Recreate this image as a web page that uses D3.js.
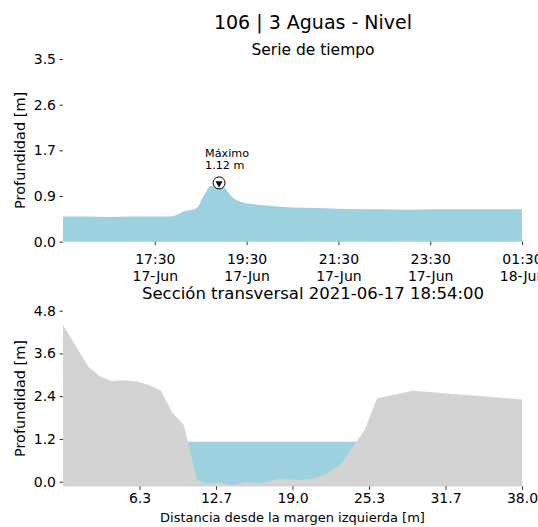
<html>
<head>
  <style>
    body { margin: 0; background: #fff; }
    text { font-family: "DejaVu Sans", sans-serif; fill: #000; }
  </style>
  <script src="https://d3js.org/d3.v7.min.js"></script>
</head>
<body>
<div id="chart"></div>
<script type="text/javascript">

// serie de tiempo (nivel)
var times = [
  "2021-06-17 15:30", "2021-06-17 16:00", "2021-06-17 16:30", "2021-06-17 17:00",
  "2021-06-17 17:30", "2021-06-17 17:50", "2021-06-17 17:55", "2021-06-17 18:00",
  "2021-06-17 18:05", "2021-06-17 18:10", "2021-06-17 18:15", "2021-06-17 18:20",
  "2021-06-17 18:25", "2021-06-17 18:28", "2021-06-17 18:31", "2021-06-17 18:34",
  "2021-06-17 18:37", "2021-06-17 18:40", "2021-06-17 18:43", "2021-06-17 18:46",
  "2021-06-17 18:48", "2021-06-17 18:51", "2021-06-17 18:54", "2021-06-17 18:57",
  "2021-06-17 19:00", "2021-06-17 19:03", "2021-06-17 19:06", "2021-06-17 19:09",
  "2021-06-17 19:12", "2021-06-17 19:16", "2021-06-17 19:22", "2021-06-17 19:30",
  "2021-06-17 19:48", "2021-06-17 20:10", "2021-06-17 20:30", "2021-06-17 21:00",
  "2021-06-17 21:30", "2021-06-17 22:00", "2021-06-17 22:30", "2021-06-17 23:00",
  "2021-06-17 23:30", "2021-06-17 23:50", "2021-06-18 00:30", "2021-06-18 01:00",
  "2021-06-18 01:30"
];
var depths = [
  0.48, 0.48, 0.47, 0.48,
  0.48, 0.48, 0.49, 0.52,
  0.56, 0.59, 0.60, 0.61,
  0.64, 0.70, 0.80, 0.88,
  0.95, 1.03, 1.07, 1.05,
  1.09, 1.08, 1.12, 1.07,
  1.05, 1.00, 0.94, 0.88,
  0.84, 0.80, 0.76, 0.73,
  0.70, 0.67, 0.65, 0.64,
  0.63, 0.62, 0.62, 0.61,
  0.62, 0.62, 0.62, 0.62,
  0.62
];
var maxTime = "2021-06-17 18:54";
var maxDepth = 1.12;
var depthTicks = [0, 0.87, 1.74, 2.61, 3.48];
var timeTicks = ["2021-06-17 17:30", "2021-06-17 19:30", "2021-06-17 21:30", "2021-06-17 23:30", "2021-06-18 01:30"];

// seccion transversal
var stations = [0, 2.1, 3.06, 4.03, 5.0, 6.1, 7.06, 8.09, 9.08, 10.0, 11.1, 12.0, 13.0,
                14.0, 15.07, 16.3, 17.96, 19.6, 20.7, 21.8, 23.07, 25.0, 26.0, 29.0, 38.0];
var bed = [4.40, 3.23, 2.95, 2.83, 2.85, 2.81, 2.72, 2.56, 1.92, 1.59, 0.05, -0.06, -0.02,
           -0.10, -0.01, -0.04, 0.08, 0.05, 0.08, 0.22, 0.52, 1.47, 2.34, 2.55, 2.31];
var waterLevel = 1.12;
var bedBottom = -0.13;
var sectionYTicks = [0, 1.2, 2.4, 3.6, 4.8];
var distTicks = [38 / 6, 38 * 2 / 6, 38 * 3 / 6, 38 * 4 / 6, 38 * 5 / 6, 38];

var W = 538, H = 527;
var left = 63, right = 522;
var blue = "#9ed1e0", gray = "#d3d3d3";

var svg = d3.select("#chart").append("svg")
    .attr("width", W).attr("height", H);

var parse = d3.timeParse("%Y-%m-%d %H:%M");
var series = times.map(function(t, i) { return {t: parse(t), v: depths[i]}; });

svg.append("text").attr("x", 313).attr("y", 28.5).attr("text-anchor", "middle")
   .style("font-size", "19px").text("106 | 3 Aguas - Nivel");

// ---------- top: serie de tiempo ----------
var xT = d3.scaleTime().domain([parse(times[0]), parse(times[times.length - 1])]).range([left, right]);
var yT = d3.scaleLinear().domain([0, 3.48]).range([241.7, 59]);

svg.append("text").attr("x", 313).attr("y", 55).attr("text-anchor", "middle")
   .style("font-size", "15.5px").text("Serie de tiempo");

svg.append("path").datum(series)
   .attr("fill", blue)
   .attr("d", d3.area().x(function(d) { return xT(d.t); }).y0(yT(0)).y1(function(d) { return yT(d.v); }));

function styleAxis(g) {
  g.select(".domain").remove();
  g.selectAll(".tick line").attr("stroke", "#000").attr("stroke-width", 0.8);
  g.selectAll(".tick text").style("font-size", "14px").attr("fill", "#000");
}

svg.append("g").attr("transform", "translate(" + left + ",0)")
   .call(d3.axisLeft(yT).tickValues(depthTicks).tickFormat(d3.format(".1f")).tickSize(3.5).tickPadding(3.5))
   .call(styleAxis);

var fmtTime = d3.timeFormat("%H:%M"), fmtDay = d3.timeFormat("%d-%b");
var xAxisT = svg.append("g").attr("transform", "translate(0," + yT(0) + ")")
   .call(d3.axisBottom(xT).tickValues(timeTicks.map(parse)).tickSize(3.5).tickPadding(3.5).tickFormat(""))
   .call(styleAxis);
xAxisT.selectAll(".tick text").each(function(d) {
  var t = d3.select(this).attr("dy", null).attr("y", 0);
  t.append("tspan").attr("x", 0).attr("y", 22).text(fmtTime(d));
  t.append("tspan").attr("x", 0).attr("y", 39).text(fmtDay(d));
});

svg.append("text").attr("transform", "translate(25," + ((yT(0) + yT(3.48)) / 2) + ") rotate(-90)")
   .attr("text-anchor", "middle").style("font-size", "14.5px").text("Profundidad [m]");

// maximo
var mx = xT(parse(maxTime)), my = yT(maxDepth);
svg.append("circle").attr("cx", mx).attr("cy", my).attr("r", 6)
   .attr("fill", "#fff").attr("stroke", "#000").attr("stroke-width", 1);
svg.append("path").attr("d", d3.symbol().type(d3.symbolTriangle).size(22))
   .attr("transform", "translate(" + mx + "," + (my + 0.5) + ") rotate(180)").attr("fill", "#000");
svg.append("text").attr("x", mx - 14).attr("y", my - 26).style("font-size", "11.2px").text("Máximo");
svg.append("text").attr("x", mx - 14).attr("y", my - 14).style("font-size", "11.2px")
   .text(maxDepth.toFixed(2) + " m");

// ---------- bottom: seccion transversal ----------
var xB = d3.scaleLinear().domain([0, 38]).range([left, right]);
var yB = d3.scaleLinear().domain([0, 4.8]).range([481.7, 310.7]);
var profile = stations.map(function(s, i) { return {x: s, y: bed[i]}; });

svg.append("text").attr("x", 313).attr("y", 299).attr("text-anchor", "middle")
   .style("font-size", "16.5px").text("Sección transversal 2021-06-17 18:54:00");

svg.append("path").datum([{x: 0}, {x: 38}])
   .attr("fill", blue)
   .attr("d", d3.area().x(function(d) { return xB(d.x); }).y0(yB(bedBottom)).y1(yB(waterLevel)));

svg.append("path").datum(profile)
   .attr("fill", gray)
   .attr("d", d3.area().x(function(d) { return xB(d.x); }).y0(yB(bedBottom)).y1(function(d) { return yB(d.y); }));

svg.append("g").attr("transform", "translate(" + left + ",0)")
   .call(d3.axisLeft(yB).tickValues(sectionYTicks).tickFormat(d3.format(".1f")).tickSize(3.5).tickPadding(3.5))
   .call(styleAxis);

svg.append("g").attr("transform", "translate(0," + yB(bedBottom) + ")")
   .call(d3.axisBottom(xB).tickValues(distTicks).tickFormat(d3.format(".1f")).tickSize(3.5).tickPadding(3.5))
   .call(styleAxis);

svg.append("text").attr("transform", "translate(25," + ((yB(bedBottom) + yB(4.8)) / 2) + ") rotate(-90)")
   .attr("text-anchor", "middle").style("font-size", "14.5px").text("Profundidad [m]");

svg.append("text").attr("x", (left + right) / 2).attr("y", 522).attr("text-anchor", "middle")
   .style("font-size", "13px").text("Distancia desde la margen izquierda [m]");

</script>
</body>
</html>
